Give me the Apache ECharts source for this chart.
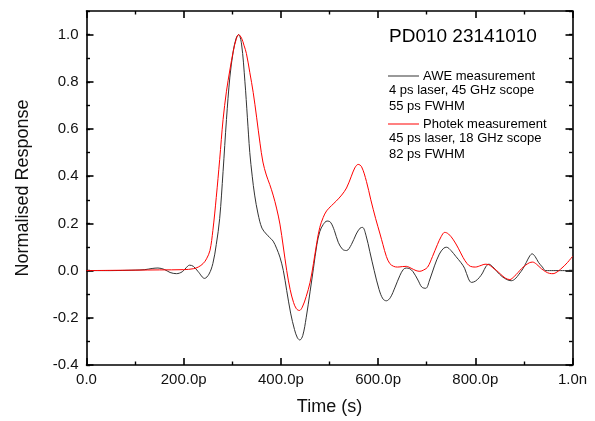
<!DOCTYPE html>
<html>
<head>
<meta charset="utf-8">
<script src="https://cdn.jsdelivr.net/npm/echarts@6/dist/echarts.min.js"></script>
<style>
html,body{margin:0;padding:0;background:#fff;}
#c{width:595px;height:421px;}
</style>
</head>
<body>
<div id="c"></div>
<script>
// ---- data (time in ps, normalised response) ----
var aweTime = [0,50,100,120,135,147,160,172,185,197,205,212,220,230,243,252,260,267,274,281,288,295,302,308,313,319,326,331,336,341,346,353,361,370,377,384,391,398,405,412,420,428,434,439,445,452,460,467,474,480,487,495,502,510,518,527,535,545,555,563,568,575,583,592,602,610,617,625,635,645,652,658,665,672,682,690,698,706,716,726,735,741,750,760,770,778,786,792,800,808,815,822,828,835,845,855,865,874,882,890,898,905,912,917,923,930,938,945,1000];
var aweValue = [0,0,0.002,0.004,0.009,0.011,0.005,-0.008,-0.013,-0.005,0.012,0.023,0.018,-0.005,-0.033,-0.015,0.03,0.11,0.22,0.42,0.64,0.82,0.93,0.985,1.0,0.96,0.80,0.65,0.50,0.40,0.32,0.24,0.18,0.155,0.14,0.125,0.095,0.057,0.0,-0.085,-0.18,-0.25,-0.285,-0.294,-0.275,-0.20,-0.09,0.01,0.11,0.165,0.195,0.21,0.205,0.17,0.12,0.09,0.085,0.11,0.155,0.18,0.183,0.15,0.08,0.0,-0.08,-0.12,-0.128,-0.115,-0.07,-0.02,0.005,0.011,0.008,-0.005,-0.04,-0.07,-0.075,-0.04,0.02,0.07,0.095,0.099,0.085,0.06,0.035,0.01,-0.035,-0.05,-0.045,-0.03,-0.01,0.018,0.027,0.018,-0.005,-0.025,-0.038,-0.043,-0.035,-0.015,0.008,0.035,0.062,0.071,0.06,0.035,0.015,0,0];

var photekTime = [0,100,150,200,220,230,240,247,254,260,267,274,281,288,295,302,308,313,319,324,329,336,343,350,357,363,370,377,384,391,398,405,412,419,426,432,438,444,452,460,467,474,480,487,494,504,514,525,535,545,552,559,566,576,585,595,604,610,617,624,632,640,650,658,668,678,686,694,702,712,722,730,737,745,755,765,775,783,790,800,812,820,828,836,844,852,862,871,880,888,895,903,911,918,926,936,945,953,960,968,975,983,990,1000];
var photekValue = [0,0.002,0.003,0.004,0.008,0.015,0.03,0.05,0.085,0.17,0.31,0.47,0.64,0.76,0.85,0.93,0.98,1.0,0.985,0.955,0.92,0.84,0.755,0.65,0.54,0.46,0.405,0.365,0.32,0.265,0.197,0.10,0.0,-0.08,-0.135,-0.162,-0.169,-0.155,-0.11,-0.05,0.03,0.12,0.183,0.225,0.253,0.275,0.295,0.32,0.35,0.40,0.435,0.45,0.44,0.378,0.30,0.22,0.155,0.11,0.06,0.03,0.018,0.015,0.017,0.018,0.01,0.0,-0.003,0.003,0.015,0.06,0.11,0.145,0.162,0.155,0.13,0.095,0.055,0.03,0.018,0.015,0.022,0.027,0.025,0.012,0.0,-0.015,-0.032,-0.038,-0.025,-0.008,0.008,0.022,0.033,0.036,0.027,0.008,-0.005,-0.012,-0.013,-0.006,0.005,0.02,0.035,0.06];

var xTickLabels = ['0.0','200.0p','400.0p','600.0p','800.0p','1.0n'];
var yTickLabels = ['-0.4','-0.2','0.0','0.2','0.4','0.6','0.8','1.0'];
var titleText = 'PD010 23141010';
var aweName = 'AWE measurement';
var aweNotes = ['4 ps laser, 45 GHz scope','55 ps FWHM'];
var photekName = 'Photek measurement';
var photekNotes = ['45 ps laser, 18 GHz scope','82 ps FWHM'];

function pairs(t, v){ var out=[]; for(var i=0;i<t.length;i++){ out.push([t[i], v[i]]); } return out; }

var FONT = '"Liberation Sans", Arial, sans-serif';
function axisLine(show){ return {show:show, onZero:false, lineStyle:{color:'#000', width:1.6}}; }

function xAx(pos, labels){
  return {
    type:'value', position:pos, min:0, max:1000, interval:200,
    axisLine: axisLine(true),
    axisTick:{show:true, inside:true, length:7, lineStyle:{color:'#000', width:1.6}},
    minorTick:{show:true, splitNumber:2, length:3.5, lineStyle:{color:'#000', width:1.4}},
    splitLine:{show:false},
    axisLabel: labels ? {show:true, margin:7, fontFamily:FONT, fontSize:15, color:'#111',
      formatter:function(v){ var i=Math.round(v/200); return xTickLabels[i]!==undefined?xTickLabels[i]:''; }} : {show:false},
    name: labels ? 'Time (s)' : '', nameLocation:'middle', nameGap:33,
    nameTextStyle:{fontFamily:FONT, fontSize:18, color:'#111'}
  };
}
function yAx(pos, interval, len, labels, showLine){
  return {
    type:'value', position:pos, min:-0.4, max:1.1, interval:interval,
    axisLine: axisLine(showLine),
    axisTick:{show:true, inside:true, length:len, lineStyle:{color:'#000', width:interval>0.15?1.6:1.4}},
    splitLine:{show:false},
    axisLabel: labels ? {show:true, margin:8, fontFamily:FONT, fontSize:15, color:'#111', showMaxLabel:false,
      formatter:function(v){ var i=Math.round((v+0.4)/0.2); return (Math.abs(v-(-0.4+0.2*i))<1e-6 && yTickLabels[i]!==undefined)?yTickLabels[i]:''; }} : {show:false},
    name: labels ? 'Normalised Response' : '', nameLocation:'middle', nameGap:54,
    nameTextStyle:{fontFamily:FONT, fontSize:18, color:'#111'}
  };
}

var chart = echarts.init(document.getElementById('c'), null, {renderer:'canvas'});
chart.setOption({
  animation:false,
  backgroundColor:'#fff',
  grid:{left:86.5, right:22.5, top:11, bottom:52, containLabel:false},
  xAxis:[ xAx('bottom', true), xAx('top', false) ],
  yAxis:[ yAx('left',0.2,7,true,true), yAx('right',0.2,7,false,true), yAx('left',0.1,3.5,false,false), yAx('right',0.1,3.5,false,false) ],
  legend:{
    orient:'vertical', left:388, top:68, padding:0, itemGap:32,
    itemWidth:31, itemHeight:1, icon:'rect',
    textStyle:{fontFamily:FONT, fontSize:13, color:'#000', lineHeight:16, padding:[0,0,0,-1]},
    data:[aweName, photekName]
  },
  graphic:[
    {type:'text', left:389, top:27, style:{text:titleText, font:'19px '+FONT, fill:'#000'}},
    {type:'text', left:389, top:84, style:{text:aweNotes[0], font:'13px '+FONT, fill:'#000'}},
    {type:'text', left:389, top:100, style:{text:aweNotes[1], font:'13px '+FONT, fill:'#000'}},
    {type:'text', left:389, top:132, style:{text:photekNotes[0], font:'13px '+FONT, fill:'#000'}},
    {type:'text', left:389, top:148, style:{text:photekNotes[1], font:'13px '+FONT, fill:'#000'}}
  ],
  series:[
    {name:aweName, type:'line', xAxisIndex:0, yAxisIndex:0, data:pairs(aweTime, aweValue),
     showSymbol:false, smooth:0.35, lineStyle:{color:'#333', width:1}, itemStyle:{color:'#333'}},
    {name:photekName, type:'line', xAxisIndex:0, yAxisIndex:0, data:pairs(photekTime, photekValue),
     showSymbol:false, smooth:0.35, lineStyle:{color:'#ff0000', width:1}, itemStyle:{color:'#ff0000'}}
  ]
});
</script>
</body>
</html>
